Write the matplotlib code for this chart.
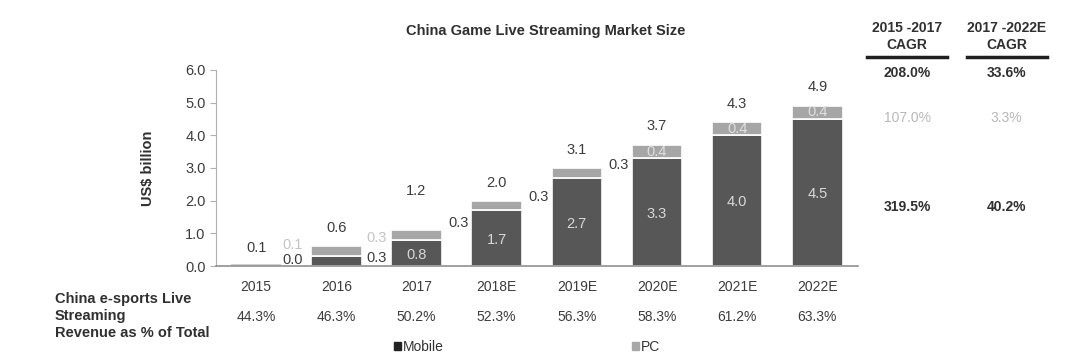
import numpy as np
import matplotlib.pyplot as plt
from matplotlib.patches import Patch

plt.rcParams['font.family'] = ['Liberation Sans', 'DejaVu Sans']

years = ['2015', '2016', '2017', '2018E', '2019E', '2020E', '2021E', '2022E']
mobile = [0.0, 0.3, 0.8, 1.7, 2.7, 3.3, 4.0, 4.5]
pc = [0.1, 0.3, 0.3, 0.3, 0.3, 0.4, 0.4, 0.4]
total = [0.1, 0.6, 1.2, 2.0, 3.1, 3.7, 4.3, 4.9]
esports_share = ['44.3%', '46.3%', '50.2%', '52.3%', '56.3%', '58.3%', '61.2%', '63.3%']
cagr_heads = ['2015 -2017\nCAGR', '2017 -2022E\nCAGR']
cagr_total = ['208.0%', '33.6%']
cagr_pc = ['107.0%', '3.3%']
cagr_mobile = ['319.5%', '40.2%']

c_mob = '#575757'
c_pc = '#a6a6a6'
c_txt = '#3c3c3c'

fig = plt.figure(figsize=(10.8, 3.62), dpi=100)
ax = fig.add_axes([0.2, 0.265, 0.594, 0.542])

x = np.arange(len(years))
# 2015 is drawn as a thin sliver only
mob_h = np.array(mobile)
pc_h = np.array(pc)
pc_h[0] = 0.05
ax.bar(x, mob_h, width=0.63, color=c_mob, edgecolor='white', linewidth=1.2)
ax.bar(x, pc_h, bottom=mob_h, width=0.63, color=c_pc, edgecolor='white', linewidth=1.2)
ax.bar(x[0], pc_h[0], width=0.63, color='#d0d0d0')

top = mob_h + pc_h
tot_off = [0.5, 0.55, 1.2, 0.55, 0.55, 0.57, 0.56, 0.57]
fs = 10.5
for i in range(len(years)):
    ax.text(x[i], top[i] + tot_off[i], f'{total[i]:.1f}', ha='center', va='center',
            fontsize=fs, color=c_txt)

# mobile labels
for i in range(len(years)):
    if mobile[i] >= 0.5:
        ax.text(x[i], mob_h[i] / 2 - 0.05, f'{mobile[i]:.1f}', ha='center', va='center',
                fontsize=fs, color='#d8d8d8')
ax.text(x[0] + 0.45, 0.2, f'{mobile[0]:.1f}', ha='center', va='center', fontsize=fs, color=c_txt)
ax.text(x[1] + 0.5, 0.25, f'{mobile[1]:.1f}', ha='center', va='center', fontsize=fs, color=c_txt)

# pc labels
ax.text(x[0] + 0.45, 0.64, f'{pc[0]:.1f}', ha='center', va='center', fontsize=fs, color='#c4c4c4')
ax.text(x[1] + 0.5, 0.86, f'{pc[1]:.1f}', ha='center', va='center', fontsize=fs, color='#c4c4c4')
for i, dy in zip([2, 3, 4], [0.25, 0.12, 0.1]):
    ax.text(x[i] + 0.52, top[i] + dy - 0.02, f'{pc[i]:.1f}', ha='center', va='center',
            fontsize=fs, color=c_txt)
for i in [5, 6, 7]:
    ax.text(x[i], mob_h[i] + pc_h[i] / 2, f'{pc[i]:.1f}', ha='center', va='center',
            fontsize=fs, color='#e0e0e0')

ax.set_xlim(-0.5, 7.5)
ax.set_ylim(0, 6)
ax.set_yticks(np.arange(0, 7, 1.0))
ax.set_yticklabels([f'{v:.1f}' for v in np.arange(0, 7, 1.0)])
ax.set_xticks(x)
ax.set_xticklabels(years)
ax.tick_params(axis='y', labelsize=10.5, colors=c_txt, length=4, color='#b0b0b0')
ax.tick_params(axis='x', labelsize=10, colors=c_txt, length=0, pad=10)
for s in ['top', 'right']:
    ax.spines[s].set_visible(False)
ax.spines['left'].set_color('#b0b0b0')
ax.spines['bottom'].set_color('#909090')
ax.spines['bottom'].set_linewidth(1.2)
ax.set_ylabel('US$ billion', fontsize=10.5, fontweight='bold', color='#303030', labelpad=22)

fig.text(0.505, 0.915, 'China Game Live Streaming Market Size', ha='center', va='center',
         fontsize=10.5, fontweight='bold', color='#303030')

# e-sports share row
for i in range(len(years)):
    fig.text(0.2 + 0.594 * (x[i] + 0.5) / 8, 0.124, esports_share[i], ha='center', va='center',
             fontsize=10, color=c_txt)
fig.text(0.051, 0.128, 'China e-sports Live\nStreaming\nRevenue as % of Total', ha='left',
         va='center', fontsize=10.5, fontweight='bold', color='#303030', linespacing=1.28)

# CAGR table
for j, cx in enumerate([0.84, 0.932]):
    fig.text(cx, 0.899, cagr_heads[j], ha='center', va='center', fontsize=10,
             fontweight='bold', color='#303030', linespacing=1.2)
    fig.add_artist(plt.Line2D([cx - 0.037, cx + 0.037], [0.842, 0.842], color='#202020', lw=2.5))
    fig.text(cx, 0.798, cagr_total[j], ha='center', va='center', fontsize=10,
             fontweight='bold', color='#303030')
    fig.text(cx, 0.674, cagr_pc[j], ha='center', va='center', fontsize=10, color='#b8b8b8')
    fig.text(cx, 0.428, cagr_mobile[j], ha='center', va='center', fontsize=10,
             fontweight='bold', color='#303030')

handles = [Patch(color='#222222', label='Mobile'), Patch(color='#a8a8a8', label='PC')]
fig.legend(handles=handles, loc='center', bbox_to_anchor=(0.488, 0.042), ncol=2,
           frameon=False, fontsize=10, handlelength=0.55, handleheight=0.55,
           handletextpad=0.15, columnspacing=13.5, labelcolor='#333333')

fig.savefig('out.png', dpi=100)
